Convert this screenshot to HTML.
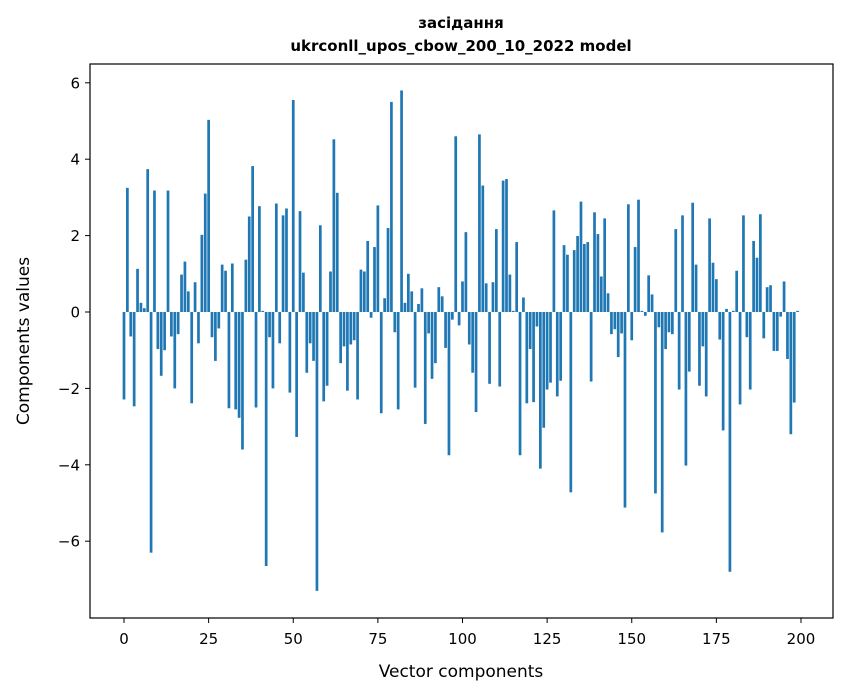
<!DOCTYPE html>
<html><head><meta charset="utf-8">
<style>
html,body{margin:0;padding:0;background:#fff;}
svg{display:block;font-family:"DejaVu Sans","Liberation Sans",sans-serif;}
</style></head>
<body>
<svg id="chart" width="847" height="696" viewBox="0 0 847 696" xmlns="http://www.w3.org/2000/svg">
<rect x="0" y="0" width="847" height="696" fill="#fff"/>
<text x="461" y="28" text-anchor="middle" font-size="15" font-weight="bold">засідання</text>
<text x="461" y="51" text-anchor="middle" font-size="15" font-weight="bold">ukrconll_upos_cbow_200_10_2022 model</text>
<g id="bars"></g>
<g id="xticks"></g>
<g id="yticks"></g>
<rect x="90" y="64" width="743" height="554" fill="none" stroke="#000" stroke-width="1.2"/>
<text x="461" y="677" text-anchor="middle" font-size="17">Vector components</text>
<text x="29" y="341" text-anchor="middle" font-size="17" transform="rotate(-90 29 341)">Components values</text>
</svg>
<script>
const values = [
-2.29,3.25,-0.64,-2.47,1.13,0.24,0.10,3.74,-6.3,3.18,
-0.97,-1.67,-1.0,3.18,-0.64,-2.0,-0.58,0.98,1.32,0.54,
-2.39,0.78,-0.82,2.02,3.1,5.03,-0.66,-1.28,-0.43,1.24,
1.08,-2.52,1.27,-2.55,-2.77,-3.6,1.37,2.5,3.82,-2.5,
2.77,0.03,-6.65,-0.66,-2.0,2.84,-0.82,2.53,2.71,-2.11,
5.55,-3.27,2.64,1.03,-1.59,-0.82,-1.28,-7.3,2.27,-2.34,
-1.93,1.06,4.52,3.12,-1.34,-0.9,-2.06,-0.85,-0.74,-2.29,
1.11,1.06,1.86,-0.15,1.7,2.79,-2.65,0.36,2.2,5.5,
-0.53,-2.55,5.8,0.24,1.0,0.54,-1.98,0.21,0.62,-2.93,
-0.56,-1.75,-1.34,0.65,0.41,-0.94,-3.75,-0.2,4.6,-0.35,
0.8,2.09,-0.85,-1.59,-2.62,4.65,3.31,0.75,-1.88,0.78,
2.17,-1.95,3.44,3.48,0.98,0.03,1.83,-3.75,0.38,-2.39,
-0.97,-2.36,-0.38,-4.1,-3.03,-2.03,-1.85,2.66,-2.21,-1.8,
1.75,1.5,-4.72,1.62,1.99,2.89,1.78,1.83,-1.82,2.61,
2.04,0.93,2.45,0.49,-0.58,-0.45,-1.18,-0.56,-5.12,2.82,
-0.74,1.7,2.94,0.03,-0.1,0.96,0.46,-4.75,-0.4,-5.77,
-0.97,-0.53,-0.58,2.17,-2.03,2.53,-4.02,-1.56,2.86,1.24,
-1.93,-0.9,-2.21,2.45,1.29,0.86,-0.72,-3.1,0.08,-6.8,
0.03,1.08,-2.42,2.53,-0.66,-2.03,1.86,1.42,2.56,-0.69,
0.65,0.7,-1.02,-1.02,-0.12,0.8,-1.23,-3.2,-2.37,0.03
];
const xTickValues = [0,25,50,75,100,125,150,175,200];
const yTickValues = [-6,-4,-2,0,2,4,6];
const xTickLabels = ["0","25","50","75","100","125","150","175","200"];
const yTickLabels = ["\u22126","\u22124","\u22122","0","2","4","6"];

const NS = "http://www.w3.org/2000/svg";
function xScale(i){ return 124 + (i/200)*677; }
function yScale(v){ return 312 - v*38.2; }
const barW = 0.8*677/200;

const gb = document.getElementById('bars');
values.forEach(function(v,i){
  const r = document.createElementNS(NS,'rect');
  const y0 = yScale(0), y1 = yScale(v);
  r.setAttribute('x', xScale(i)-barW/2);
  r.setAttribute('y', Math.min(y0,y1));
  r.setAttribute('width', barW);
  r.setAttribute('height', Math.max(Math.abs(y1-y0),0.3));
  r.setAttribute('fill', '#1f77b4');
  
  
  gb.appendChild(r);
});

const gx = document.getElementById('xticks');
xTickValues.forEach(function(t,k){
  const x = xScale(t);
  const l = document.createElementNS(NS,'line');
  l.setAttribute('x1',x); l.setAttribute('x2',x);
  l.setAttribute('y1',618); l.setAttribute('y2',623);
  l.setAttribute('stroke','#000'); l.setAttribute('stroke-width','1');
  
  
  gx.appendChild(l);
  const tx = document.createElementNS(NS,'text');
  tx.setAttribute('x',x); tx.setAttribute('y',644);
  tx.setAttribute('text-anchor','middle'); tx.setAttribute('font-size','15');
  tx.textContent = xTickLabels[k];
  
  
  gx.appendChild(tx);
});

const gy = document.getElementById('yticks');
yTickValues.forEach(function(t,k){
  const y = yScale(t);
  const l = document.createElementNS(NS,'line');
  l.setAttribute('x1',85); l.setAttribute('x2',90);
  l.setAttribute('y1',y); l.setAttribute('y2',y);
  l.setAttribute('stroke','#000'); l.setAttribute('stroke-width','1');
  
  
  gy.appendChild(l);
  const tx = document.createElementNS(NS,'text');
  tx.setAttribute('x',80); tx.setAttribute('y',y+5.5);
  tx.setAttribute('text-anchor','end'); tx.setAttribute('font-size','15');
  tx.textContent = yTickLabels[k];
  
  
  gy.appendChild(tx);
});
</script>
</body></html>
